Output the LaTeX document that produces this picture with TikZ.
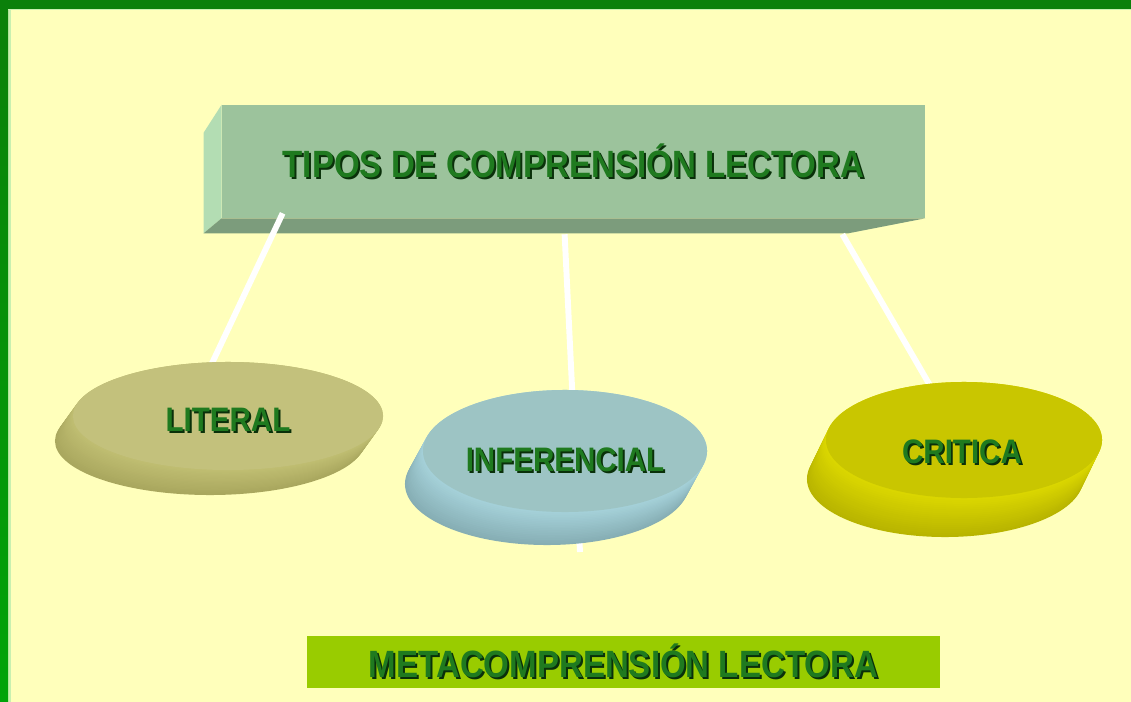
\documentclass[tikz,border=0pt]{standalone}
\usepackage{fontspec}
\setmainfont{Liberation Sans}
\usetikzlibrary{shapes.geometric, calc}

\definecolor{paper}{HTML}{FFFFBB}
\definecolor{bardark}{HTML}{0A800A}
\definecolor{barleft}{HTML}{00A40A}
\definecolor{barlight}{HTML}{C8F0B0}
\definecolor{boxfront}{HTML}{9CC39C}
\definecolor{boxside}{HTML}{B3DDB3}
\definecolor{boxbottom}{HTML}{7C9C7C}
\definecolor{txtgreen}{HTML}{1F7A1F}
\definecolor{txtshadow}{HTML}{0A300A}
\definecolor{littop}{HTML}{C3C17C}
\definecolor{litside}{HTML}{C0BE72}
\definecolor{litdark}{HTML}{A9A75E}
\definecolor{inftop}{HTML}{9DC4C4}
\definecolor{infside}{HTML}{A6D2DA}
\definecolor{infdark}{HTML}{86AEB4}
\definecolor{crittop}{HTML}{C9C600}
\definecolor{critside}{HTML}{DCD800}
\definecolor{critdark}{HTML}{B8B400}
\definecolor{metagreen}{HTML}{99CC00}

\newcommand{\shadowed}[1]{\scalebox{1}[1.15]{\rlap{\kern1.4pt\raisebox{-1.4pt}{\textcolor{txtshadow}{#1}}}#1}}

\begin{document}
\begin{tikzpicture}[x=0.025cm, y=-0.025cm,
  box/.style={rectangle, inner sep=0pt, draw=none},
  disc/.style={ellipse, inner sep=0pt, draw=none},
  link/.style={draw=white, line width=4.2pt},
  titletext/.style={text=txtgreen, font=\bfseries\fontsize{23.5}{28}\selectfont},
  disctext/.style={text=txtgreen, font=\bfseries\fontsize{21}{25}\selectfont, inner sep=0pt}]
\useasboundingbox (0,0) rectangle (1131,702);

% frame
\fill[paper] (0,0) rectangle (1131,702);
\fill[barlight] (8,9) rectangle (11,702);
\shade[top color=bardark, bottom color=barleft] (0,0) rectangle (8,702);
\fill[bardark] (0,0) rectangle (1131,9);
\fill[barlight] (8,9) rectangle (1131,10.5);

% title bar
\node[box, fill=boxfront, minimum width=17.575cm, minimum height=2.825cm, titletext] (tipos) at (573.5,161.5) {\shadowed{TIPOS DE COMPRENSIÓN LECTORA}};
\fill[boxside] ([shift={(-18,28)}]tipos.north west) -- (tipos.north west) -- (tipos.south west) -- ([shift={(-18,15)}]tipos.south west) -- cycle;
\fill[boxbottom] ([shift={(-18,15)}]tipos.south west) -- (tipos.south west) -- (tipos.south east) -- ([shift={(-77,15)}]tipos.south east) -- cycle;

% connectors
\coordinate (literal end) at (190,410);
\coordinate (inferencial end) at (580,552);
\coordinate (critica end) at (950,420);
\draw[link] ([shift={(61,-5)}]tipos.south west) -- (literal end);
\draw[link] ([shift={(343,16)}]tipos.south west) -- (inferencial end);
\draw[link] ([shift={(-83,16)}]tipos.south east) -- (critica end);

% disc sides
\foreach \cx/\cy/\rx/\ry/\dx/\dy/\ca/\cb in {228/416/3.875/1.35/-18/25/litside/litdark, 565/451/3.55/1.525/-18/33/infside/infdark, 964/440/3.45/1.45/-19/39/critside/critdark}
  \foreach \k in {20,19,...,0}{
    \pgfmathtruncatemacro{\mix}{100-5*\k}
    \pgfmathsetmacro{\f}{\k/20}
    \fill[\ca!\mix!\cb] ($(\cx,\cy)+\f*(\dx,\dy)$) ellipse [x radius=\rx cm, y radius=\ry cm];
  }

% disc tops
\node[disc, fill=littop, minimum width=7.75cm, minimum height=2.7cm] (literal) at (228,416) {};
\node[disc, fill=inftop, minimum width=7.1cm, minimum height=3.05cm] (inferencial) at (565,451) {};
\node[disc, fill=crittop, minimum width=6.9cm, minimum height=2.9cm] (critica) at (964,440) {};
\node[disctext] (literal text) at ([shift={(0,5)}]literal.center) {\shadowed{LITERAL}};
\node[disctext] (inferencial text) at ([shift={(0,10)}]inferencial.center) {\shadowed{INFERENCIAL}};
\node[disctext] (critica text) at ([shift={(-2,13)}]critica.center) {\shadowed{CRITICA}};

% bottom bar
\node[box, fill=metagreen, minimum width=15.825cm, minimum height=1.3cm, titletext] (meta) at (623.5,662) {\shadowed{METACOMPRENSIÓN LECTORA}};

\end{tikzpicture}
\end{document}
